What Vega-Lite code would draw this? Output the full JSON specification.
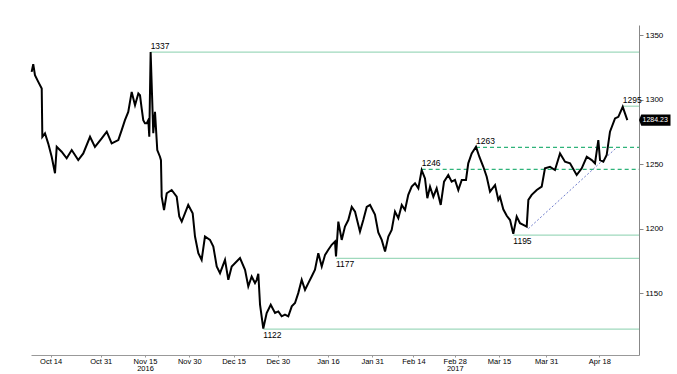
{
  "$schema": "https://vega.github.io/schema/vega-lite/v6.json",
  "width": 608,
  "height": 330,
  "autosize": "none",
  "padding": {"left": 31, "top": 25, "right": 38, "bottom": 19},
  "background": "white",
  "config": {
    "view": {"stroke": null},
    "font": "Liberation Sans",
    "axis": {"labelFont": "Liberation Sans", "labelFontSize": 8, "labelColor": "#000000", "grid": false, "title": null}
  },
  "datasets": {
    "price": [
      {"t":"2016-09-30T11:00","p":1321.6},{"t":"2016-10-01T00:00","p":1327.6},{"t":"2016-10-01T14:00","p":1319},{"t":"2016-10-02T17:00","p":1313.9},
      {"t":"2016-10-03T21:00","p":1308.7},{"t":"2016-10-04T02:00","p":1271.3},{"t":"2016-10-04T23:30","p":1274},{"t":"2016-10-06T02:00","p":1266},
      {"t":"2016-10-07T06:00","p":1255.8},{"t":"2016-10-08T09:00","p":1243},{"t":"2016-10-08T23:00","p":1263.5},{"t":"2016-10-10T15:00","p":1259.7},
      {"t":"2016-10-12T08:00","p":1254.6},{"t":"2016-10-14T01:00","p":1261},{"t":"2016-10-16T06:00","p":1253.2},{"t":"2016-10-17T23:00","p":1258.4},
      {"t":"2016-10-20T06:00","p":1271.3},{"t":"2016-10-21T22:00","p":1263.5},{"t":"2016-10-24T05:00","p":1270},{"t":"2016-10-25T22:00","p":1275.2},
      {"t":"2016-10-27T14:00","p":1266.2},{"t":"2016-10-29T20:00","p":1268.7},{"t":"2016-10-30T23:30","p":1276.5},{"t":"2016-11-01T02:00","p":1284.2},
      {"t":"2016-11-02T05:00","p":1290.6},{"t":"2016-11-03T09:00","p":1306.1},{"t":"2016-11-04T12:00","p":1295.8},{"t":"2016-11-05T15:00","p":1304.9},
      {"t":"2016-11-06T04:30","p":1303.5},{"t":"2016-11-06T18:00","p":1293.3},{"t":"2016-11-07T07:00","p":1284.2},{"t":"2016-11-07T21:00","p":1281.7},
      {"t":"2016-11-08T11:00","p":1281.7},{"t":"2016-11-09T00:00","p":1284.2},{"t":"2016-11-09T08:00","p":1271.3},{"t":"2016-11-09T19:00","p":1337},
      {"t":"2016-11-10T06:00","p":1305},{"t":"2016-11-10T16:30","p":1274},{"t":"2016-11-11T06:30","p":1290.6},{"t":"2016-11-12T01:00","p":1261},
      {"t":"2016-11-12T23:00","p":1255.8},{"t":"2016-11-13T07:00","p":1253.2},{"t":"2016-11-13T13:00","p":1224.8},{"t":"2016-11-14T08:00","p":1214.5},
      {"t":"2016-11-15T06:00","p":1227.5},{"t":"2016-11-16T22:00","p":1230},{"t":"2016-11-18T15:00","p":1224.8},{"t":"2016-11-19T12:00","p":1209.4},
      {"t":"2016-11-20T08:00","p":1205.5},{"t":"2016-11-22T13:00","p":1218.4},{"t":"2016-11-24T01:00","p":1212},{"t":"2016-11-24T20:00","p":1193.9},
      {"t":"2016-11-25T23:00","p":1181},{"t":"2016-11-27T02:00","p":1175.8},{"t":"2016-11-28T05:00","p":1193.9},{"t":"2016-11-29T22:00","p":1191.3},
      {"t":"2016-12-01T01:00","p":1186.2},{"t":"2016-12-02T04:30","p":1170.7},{"t":"2016-12-03T07:30","p":1165.5},{"t":"2016-12-05T00:00","p":1175.8},
      {"t":"2016-12-06T03:00","p":1160.3},{"t":"2016-12-07T06:30","p":1170.7},{"t":"2016-12-10T02:00","p":1177.2},{"t":"2016-12-11T19:00","p":1168.1},
      {"t":"2016-12-12T21:30","p":1155.2},{"t":"2016-12-14T01:00","p":1162.9},{"t":"2016-12-15T04:00","p":1157.8},{"t":"2016-12-15T18:00","p":1160.3},
      {"t":"2016-12-16T07:00","p":1165},{"t":"2016-12-16T21:00","p":1141},{"t":"2016-12-17T23:30","p":1122.5},{"t":"2016-12-19T03:00","p":1134.6},
      {"t":"2016-12-20T12:00","p":1141},{"t":"2016-12-21T23:00","p":1134.6},{"t":"2016-12-23T02:00","p":1135.8},{"t":"2016-12-24T05:00","p":1132},
      {"t":"2016-12-25T08:00","p":1133.3},{"t":"2016-12-26T11:00","p":1132},{"t":"2016-12-27T15:00","p":1139.7},{"t":"2016-12-28T17:30","p":1142.3},
      {"t":"2016-12-29T20:00","p":1150},{"t":"2016-12-31T00:00","p":1160.3},{"t":"2017-01-01T03:00","p":1152.6},{"t":"2017-01-02T06:00","p":1157.8},
      {"t":"2017-01-03T09:00","p":1162.9},{"t":"2017-01-04T12:00","p":1168.1},{"t":"2017-01-05T15:00","p":1181},{"t":"2017-01-06T19:00","p":1170.7},
      {"t":"2017-01-07T22:00","p":1179.7},{"t":"2017-01-09T00:30","p":1183.6},{"t":"2017-01-10T04:00","p":1187.5},{"t":"2017-01-11T07:00","p":1190},
      {"t":"2017-01-11T15:00","p":1178.4},{"t":"2017-01-12T10:00","p":1205.5},{"t":"2017-01-13T13:30","p":1191.3},{"t":"2017-01-14T16:00","p":1201.6},
      {"t":"2017-01-15T19:00","p":1206.7},{"t":"2017-01-16T23:00","p":1216.9},{"t":"2017-01-18T02:00","p":1213.2},{"t":"2017-01-19T18:00","p":1197.7},
      {"t":"2017-01-20T21:00","p":1206.7},{"t":"2017-01-22T01:00","p":1216.9},{"t":"2017-01-23T04:00","p":1218.4},{"t":"2017-01-24T20:00","p":1211},
      {"t":"2017-01-25T23:00","p":1197},{"t":"2017-01-27T03:00","p":1191.3},{"t":"2017-01-28T06:00","p":1182.3},{"t":"2017-01-29T09:00","p":1193.9},
      {"t":"2017-01-30T12:00","p":1199},{"t":"2017-01-31T15:00","p":1213.2},{"t":"2017-02-01T18:00","p":1208.1},{"t":"2017-02-02T22:00","p":1218.4},
      {"t":"2017-02-04T00:30","p":1214.5},{"t":"2017-02-05T03:00","p":1226.2},{"t":"2017-02-06T07:00","p":1232.6},{"t":"2017-02-07T10:00","p":1235.2},
      {"t":"2017-02-08T13:00","p":1231.3},{"t":"2017-02-09T16:00","p":1245.5},{"t":"2017-02-10T19:00","p":1239},{"t":"2017-02-11T14:00","p":1223.6},
      {"t":"2017-02-12T12:00","p":1232.6},{"t":"2017-02-13T15:00","p":1224.8},{"t":"2017-02-14T18:00","p":1231.3},{"t":"2017-02-16T03:00","p":1218.4},
      {"t":"2017-02-17T06:00","p":1236.5},{"t":"2017-02-18T16:30","p":1241.6},{"t":"2017-02-19T20:00","p":1236.5},{"t":"2017-02-20T23:00","p":1237.8},
      {"t":"2017-02-22T02:00","p":1230},{"t":"2017-02-23T06:00","p":1237.8},{"t":"2017-02-24T16:30","p":1237.8},{"t":"2017-02-25T11:00","p":1250.7},
      {"t":"2017-02-26T15:00","p":1258.4},{"t":"2017-02-28T02:00","p":1263.5},{"t":"2017-03-01T05:00","p":1255.8},{"t":"2017-03-02T13:30","p":1248},
      {"t":"2017-03-03T17:00","p":1240.3},{"t":"2017-03-04T20:00","p":1228.7},{"t":"2017-03-06T13:00","p":1233.9},{"t":"2017-03-07T15:30","p":1222.3},
      {"t":"2017-03-08T05:00","p":1224.8},{"t":"2017-03-09T08:00","p":1215},{"t":"2017-03-10T12:00","p":1210},{"t":"2017-03-11T15:00","p":1206.7},
      {"t":"2017-03-12T17:30","p":1196},{"t":"2017-03-13T21:00","p":1209.4},{"t":"2017-03-15T00:00","p":1204.2},{"t":"2017-03-16T03:00","p":1203},
      {"t":"2017-03-17T06:30","p":1201.6},{"t":"2017-03-17T20:00","p":1222.3},{"t":"2017-03-18T23:00","p":1226.2},{"t":"2017-03-20T16:00","p":1230},
      {"t":"2017-03-22T08:30","p":1232.6},{"t":"2017-03-23T11:00","p":1246.8},{"t":"2017-03-25T04:00","p":1248},{"t":"2017-03-26T20:30","p":1245.5},
      {"t":"2017-03-28T13:30","p":1258.4},{"t":"2017-03-30T06:00","p":1251.9},{"t":"2017-03-31T23:00","p":1250.7},{"t":"2017-04-03T05:00","p":1241.6},
      {"t":"2017-04-04T22:00","p":1246.8},{"t":"2017-04-06T15:00","p":1255.8},{"t":"2017-04-08T07:30","p":1253.2},{"t":"2017-04-09T10:00","p":1250.7},
      {"t":"2017-04-10T13:00","p":1268.7},{"t":"2017-04-11T03:00","p":1253.2},{"t":"2017-04-12T06:00","p":1251.9},{"t":"2017-04-13T09:00","p":1257.1},
      {"t":"2017-04-14T12:00","p":1275.2},{"t":"2017-04-16T05:00","p":1285.5},{"t":"2017-04-17T08:00","p":1286.8},{"t":"2017-04-18T19:30","p":1294.5},
      {"t":"2017-04-19T14:00","p":1289.4},{"t":"2017-04-20T09:00","p":1284.23}
    ],
    "levels": [
      {"start":"2016-11-09T19:00","level":1337,"label":"1337","kind":"solid","pos":"above"},
      {"start":"2017-04-18T19:30","level":1295,"label":"1295","kind":"solid","pos":"above"},
      {"start":"2017-02-28T02:00","level":1263,"label":"1263","kind":"dashed","pos":"above"},
      {"start":"2017-02-09T16:00","level":1246,"label":"1246","kind":"dashed","pos":"above"},
      {"start":"2017-03-12T17:30","level":1195,"label":"1195","kind":"solid","pos":"below"},
      {"start":"2017-01-11T15:00","level":1177,"label":"1177","kind":"solid","pos":"below"},
      {"start":"2016-12-17T23:30","level":1122,"label":"1122","kind":"solid","pos":"below"}
    ],
    "trend": [
      {"t":"2017-03-17T20:00","p":1200},
      {"t":"2017-04-16T19:00","p":1263}
    ],
    "last": [{"p":1284.23,"label":"1284.23"}]
  },
  "encoding": {
    "x": {
      "field": "t", "type": "temporal",
      "scale": {"domain": ["2016-09-30T05:45", "2017-04-24T08:00"]},
      "axis": {
        "orient": "bottom",
        "values": [
          {"year":2016,"month":10,"date":14},{"year":2016,"month":10,"date":31},{"year":2016,"month":11,"date":15},
          {"year":2016,"month":11,"date":30},{"year":2016,"month":12,"date":15},{"year":2016,"month":12,"date":30},
          {"year":2017,"month":1,"date":16},{"year":2017,"month":1,"date":31},{"year":2017,"month":2,"date":14},
          {"year":2017,"month":2,"date":28},{"year":2017,"month":3,"date":15},{"year":2017,"month":3,"date":31},
          {"year":2017,"month":4,"date":18}
        ],
        "format": "%b %d",
        "labelExpr": "(month(datum.value)==10 && date(datum.value)==15) ? [datum.label, '2016'] : ((month(datum.value)==1 && date(datum.value)==28) ? [datum.label, '2017'] : datum.label)",
        "domainColor": "#999999",
        "tickColor": "#999999",
        "tickSize": 2,
        "tickOffset": -21,
        "labelPadding": 0,
        "labelFontSize": 7.5,
        "labelFlush": false,
        "labelOverlap": false,
        "labelLineHeight": 7.5
      }
    },
    "y": {
      "field": "p", "type": "quantitative",
      "scale": {"domain": [1102, 1358], "nice": false, "zero": false},
      "axis": {
        "orient": "right",
        "values": [1150, 1200, 1250, 1300, 1350],
        "format": "d",
        "labelOverlap": false,
        "labelFlush": false,
        "domainColor": "#888888",
        "tickColor": "#888888",
        "tickSize": 4,
        "labelPadding": 2,
        "labelFontSize": 8
      }
    }
  },
  "layer": [
    {
      "data": {"name": "levels"},
      "transform": [{"filter": "datum.kind == 'solid'"}],
      "mark": {"type": "rule", "stroke": "#9fd9bd", "strokeWidth": 1.2},
      "encoding": {
        "x": {"field": "start", "type": "temporal"},
        "x2": {"value": "width"},
        "y": {"field": "level", "type": "quantitative"}
      }
    },
    {
      "data": {"name": "levels"},
      "transform": [{"filter": "datum.kind == 'dashed'"}],
      "mark": {"type": "rule", "stroke": "#2fb37a", "strokeWidth": 1.2, "strokeDash": [4, 3]},
      "encoding": {
        "x": {"field": "start", "type": "temporal"},
        "x2": {"value": "width"},
        "y": {"field": "level", "type": "quantitative"}
      }
    },
    {
      "data": {"name": "trend"},
      "mark": {"type": "line", "color": "#6f7dcc", "strokeWidth": 1, "strokeDash": [2, 2]},
      "encoding": {}
    },
    {
      "data": {"name": "price"},
      "mark": {"type": "line", "color": "#000000", "strokeWidth": 2, "strokeJoin": "miter"},
      "encoding": {}
    },
    {
      "data": {"name": "levels"},
      "transform": [{"filter": "datum.pos == 'above'"}],
      "mark": {"type": "text", "align": "left", "baseline": "bottom", "dy": -1, "fontSize": 8.5, "color": "#000000"},
      "encoding": {
        "x": {"field": "start", "type": "temporal"},
        "y": {"field": "level", "type": "quantitative"},
        "text": {"field": "label"}
      }
    },
    {
      "data": {"name": "levels"},
      "transform": [{"filter": "datum.pos == 'below'"}],
      "mark": {"type": "text", "align": "left", "baseline": "top", "dy": 2, "fontSize": 8.5, "color": "#000000"},
      "encoding": {
        "x": {"field": "start", "type": "temporal"},
        "y": {"field": "level", "type": "quantitative"},
        "text": {"field": "label"}
      }
    },
    {
      "data": {"name": "last"},
      "mark": {"type": "point", "shape": "M0,0 L0.15,-0.37 L2.1,-0.37 L2.1,0.37 L0.15,0.37 Z", "size": 900, "filled": true, "color": "#000000", "opacity": 1, "clip": false},
      "encoding": {
        "x": {"value": "width"}
      }
    },
    {
      "data": {"name": "last"},
      "mark": {"type": "text", "align": "left", "baseline": "middle", "dx": 3.5, "fontSize": 7, "color": "#ffffff", "clip": false},
      "encoding": {
        "x": {"value": "width"},
        "text": {"field": "label"}
      }
    }
  ]
}
